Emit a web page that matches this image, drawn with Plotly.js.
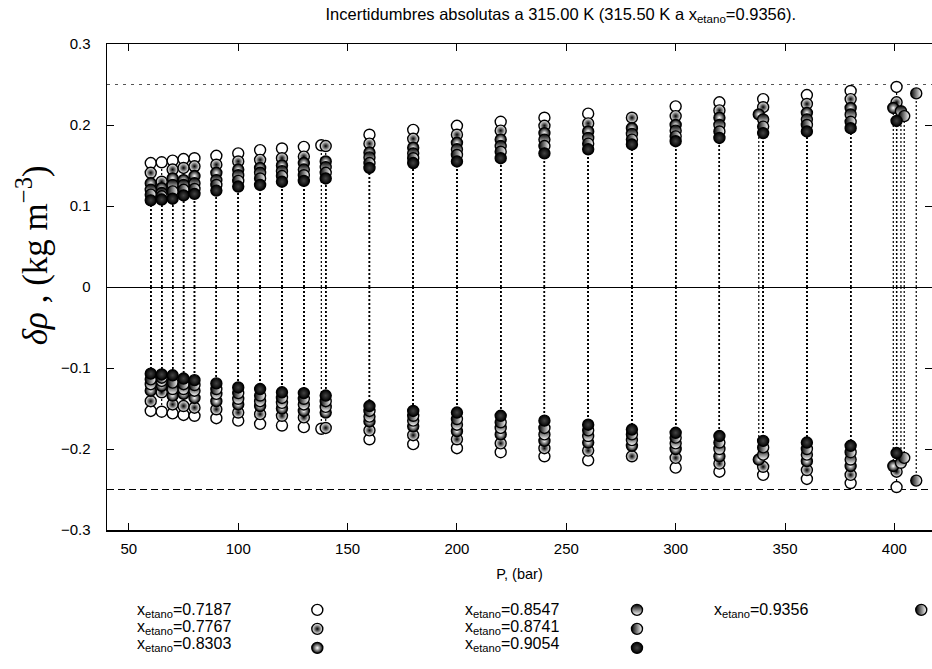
<!DOCTYPE html>
<html>
<head>
<meta charset="utf-8">
<script src="https://cdn.plot.ly/plotly-3.0.1.min.js"></script>
<style>html,body{margin:0;padding:0;background:#fff;}#chart{width:932px;height:669px;}</style>
</head>
<body>
<div id="chart"></div>
<script>
// ---- data ----
const seriesNames = [
  'x<sub>etano</sub>=0.7187', 'x<sub>etano</sub>=0.7767', 'x<sub>etano</sub>=0.8303',
  'x<sub>etano</sub>=0.8547', 'x<sub>etano</sub>=0.8741', 'x<sub>etano</sub>=0.9054',
  'x<sub>etano</sub>=0.9356'
];
const p1 = [60,65,70,75,80,90,100,110,120,130,138,160,180,200,220,240,260,300,320,340,360,380,401];
const u1 = [0.153,0.154,0.156,0.158,0.159,0.162,0.165,0.169,0.171,0.173,0.175,0.188,0.194,0.199,0.204,0.209,0.214,0.223,0.228,0.232,0.237,0.242,0.247];
const p2 = [60,65,70,75,80,90,100,110,120,130,140,160,180,200,220,240,260,280,300,320,340,360,380,401];
const u2 = [0.141,0.130,0.145,0.147,0.149,0.151,0.155,0.157,0.159,0.161,0.174,0.177,0.183,0.188,0.193,0.199,0.202,0.209,0.211,0.218,0.222,0.226,0.232,0.228];
const p3 = [60,65,70,75,80,90,100,110,120,130,140,160,180,200,220,240,260,280,300,320,338,360,380,399.5];
const u3 = [0.128,0.122,0.134,0.132,0.137,0.141,0.145,0.147,0.150,0.153,0.155,0.166,0.172,0.178,0.182,0.190,0.192,0.196,0.200,0.209,0.213,0.215,0.221,0.221];
const p4 = [60,65,70,75,80,90,100,110,120,130,140,160,180,200,220,240,260,280,300,320,340,360,380,403];
const u4 = [0.120,0.116,0.126,0.126,0.128,0.132,0.138,0.141,0.143,0.145,0.148,0.160,0.165,0.170,0.174,0.182,0.184,0.189,0.193,0.200,0.207,0.207,0.213,0.217];
const p5 = [60,65,70,75,80,90,100,110,120,130,140,160,180,200,220,240,260,280,300,320,340,360,380,404.5];
const u5 = [0.114,0.112,0.118,0.120,0.121,0.126,0.131,0.134,0.137,0.138,0.141,0.153,0.159,0.163,0.167,0.174,0.177,0.182,0.186,0.192,0.198,0.200,0.204,0.211];
const p6 = [60,65,70,75,80,90,100,110,120,130,140,160,180,200,220,240,260,280,300,320,340,360,380,401];
const u6 = [0.107,0.108,0.109,0.113,0.115,0.119,0.124,0.126,0.130,0.131,0.134,0.147,0.153,0.155,0.159,0.165,0.170,0.176,0.180,0.184,0.190,0.192,0.196,0.205];
const p7 = [410];
const u7 = [0.239];

const xTicks = [50,100,150,200,250,300,350,400];
const yTicks = [-0.3,-0.2,-0.1,0,0.1,0.2,0.3];
const yTickLabels = ['\u22120.3','\u22120.2','\u22120.1','0','0.1','0.2','0.3'];

// ---- styles ----
const pressures = [p1,p2,p3,p4,p5,p6,p7];
const uncert = [u1,u2,u3,u4,u5,u6,u7];
const markerStyles = [
  {color:'#ffffff'},
  {color:'#ffffff', gradient:{type:'radial', color:'#000000'}},
  {color:'#000000', gradient:{type:'radial', color:'#ffffff'}},
  {color:'#000000', gradient:{type:'vertical', color:'#ffffff'}},
  {color:'#000000', gradient:{type:'horizontal', color:'#ffffff'}},
  {color:'#000000', gradient:{type:'radial', color:'#444444'}},
  {color:'#000000', gradient:{type:'horizontal', color:'#ffffff'}}
];
const legendOf = ['legend','legend','legend','legend2','legend2','legend2','legend3'];

const lineTraces = [];
const markerTraces = [];
pressures.forEach((p, i) => {
  const u = uncert[i];
  const lx = [], ly = [];
  p.forEach((pv, k) => { lx.push(pv, pv, null, pv, pv, null); ly.push(0, u[k], null, 0, -u[k], null); });
  lineTraces.push({
    x: lx, y: ly, type: 'scatter', mode: 'lines', showlegend: false, hoverinfo: 'skip',
    line: {color: '#000', width: 1.2, dash: '2px,2px'}
  });
  const mk = Object.assign({symbol: 'circle', size: 11, line: {color: '#000', width: 1.4}}, markerStyles[i]);
  markerTraces.push({
    x: p, y: u, type: 'scatter', mode: 'markers', name: ' ',
    legend: legendOf[i], showlegend: true, marker: mk
  });
  markerTraces.push({
    x: p, y: u.map(v => -v), type: 'scatter', mode: 'markers', name: seriesNames[i],
    showlegend: false, marker: mk
  });
});

const font = 'Liberation Sans, Arial, sans-serif';
const legendCommon = {
  orientation: 'v', bgcolor: 'rgba(0,0,0,0)', borderwidth: 0,
  font: {family: font, size: 11, color: '#000'},
  xref: 'container', yref: 'container',
  yanchor: 'top', xanchor: 'left', y: 0.110, tracegroupgap: 0, itemsizing: 'trace'
};

// legend texts placed like the reference (text left, symbol right)
const legendCols = [0.034, 0.034, 0.034, 0.4315, 0.4315, 0.4315, 0.733];
const legendRows = [-0.165, -0.200, -0.235, -0.165, -0.200, -0.235, -0.165];
const legendTexts = seriesNames.map((t, i) => ({
  text: t, xref: 'paper', yref: 'paper', x: legendCols[i], y: legendRows[i],
  xanchor: 'left', yanchor: 'middle', showarrow: false,
  font: {family: font, size: 16, color: '#000'}
}));

const layout = {
  width: 932, height: 669,
  margin: {l: 107, r: 0, t: 44, b: 139, autoexpand: false},
  paper_bgcolor: '#fff', plot_bgcolor: '#fff',
  font: {family: font, size: 15, color: '#000'},
  title: {
    text: 'Incertidumbres absolutas a 315.00 K (315.50 K a x<sub>etano</sub>=0.9356).',
    font: {family: font, size: 16.5, color: '#000'},
    x: 0.550, xref: 'paper', xanchor: 'center', y: 0.979, yref: 'container', yanchor: 'middle'
  },
  xaxis: {
    range: [40, 417.2], tickvals: xTicks, ticks: 'inside', ticklen: 7, tickwidth: 1,
    tickcolor: '#000', showline: true, linecolor: '#000', linewidth: 1.5, mirror: 'ticks',
    showgrid: false, zeroline: false, ticklabelstandoff: 4,
    tickfont: {family: font, size: 15, color: '#000'},
    title: {text: 'P, (bar)', font: {family: font, size: 14.5, color: '#000'}, standoff: 13}
  },
  yaxis: {
    range: [-0.3, 0.3], tickvals: yTicks, ticktext: yTickLabels, ticks: 'inside', ticklen: 7, tickwidth: 1,
    tickcolor: '#000', showline: true, linecolor: '#000', linewidth: 1.5, mirror: 'ticks',
    showgrid: false, zeroline: true, zerolinecolor: '#000', zerolinewidth: 1,
    ticklabelstandoff: 12,
    tickfont: {family: font, size: 15, color: '#000'}
  },
  annotations: [{
    text: '<i>δρ</i> , (kg m<sup>−3</sup>)', textangle: -90,
    xref: 'paper', yref: 'paper', x: -0.090, y: 0.565, xanchor: 'center', yanchor: 'middle',
    showarrow: false, font: {family: 'Liberation Serif, DejaVu Serif, serif', size: 35, color: '#000'}
  }].concat(legendTexts),
  shapes: [
    {type: 'line', xref: 'paper', x0: 0, x1: 1, yref: 'y', y0: 0.25, y1: 0.25,
     line: {color: '#555', width: 1, dash: '3px,5px'}, layer: 'below'},
    {type: 'line', xref: 'paper', x0: 0, x1: 1, yref: 'y', y0: -0.25, y1: -0.25,
     line: {color: '#000', width: 1, dash: '7px,4px'}, layer: 'below'}
  ],
  legend: Object.assign({x: 0.319}, legendCommon),
  legend2: Object.assign({x: 0.662}, legendCommon),
  legend3: Object.assign({x: 0.967}, legendCommon)
};

Plotly.newPlot('chart', lineTraces.concat(markerTraces), layout, {displayModeBar: false, staticPlot: true});
</script>
</body>
</html>
